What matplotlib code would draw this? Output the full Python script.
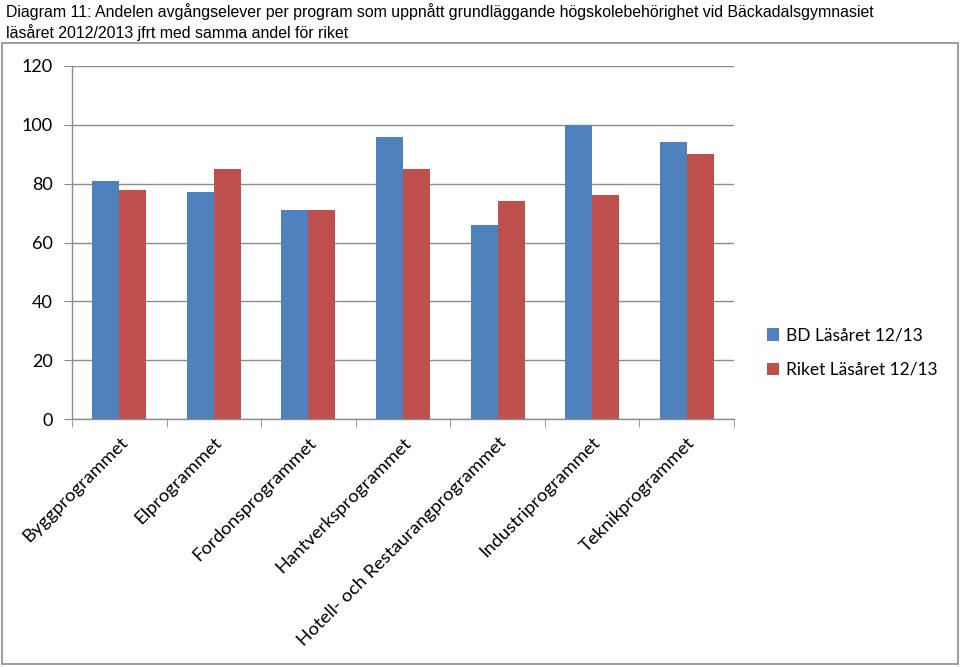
import matplotlib
matplotlib.use("Agg")
import matplotlib.pyplot as plt
import matplotlib.patches as patches
import numpy as np

categories = ["Byggprogrammet", "Elprogrammet", "Fordonsprogrammet",
              "Hantverksprogrammet", "Hotell- och Restaurangprogrammet",
              "Industriprogrammet", "Teknikprogrammet"]
bd_values = [81, 77, 71, 96, 66, 100, 94]
riket_values = [78, 85, 71, 85, 74, 76, 90]
series_names = ["BD Läsåret 12/13", "Riket Läsåret 12/13"]
yticks = [0, 20, 40, 60, 80, 100, 120]

title = ("Diagram 11: Andelen avgångselever per program som uppnått grundläggande "
         "högskolebehörighet vid Bäckadalsgymnasiet\nläsåret 2012/2013 jfrt med samma andel för riket")

blue = "#4F81BD"
red = "#C0504D"
grey = "#8C8C8C"
lab_font = "Lato"

fig = plt.figure(figsize=(9.6, 6.67), dpi=100)
ax = fig.add_axes([72/960, 1-419/667, (734-72)/960, (419-66)/667])

x = np.arange(len(categories))
w = 0.285
b1 = ax.bar(x - w/2, bd_values, w, color=blue, label=series_names[0])
b2 = ax.bar(x + w/2, riket_values, w, color=red, label=series_names[1])

ax.set_xlim(-0.5, len(categories) - 0.5)
ax.set_ylim(0, 120)
ax.set_yticks(yticks)
ax.set_yticklabels([str(v) for v in yticks], fontsize=13, family=lab_font)
ax.yaxis.grid(True, color=grey, linewidth=1)
ax.set_axisbelow(True)

ax.set_xticks(x)
ax.set_xticklabels(categories, rotation=45, ha="right", va="top",
                   rotation_mode="anchor", fontsize=13.3, family=lab_font)
ax.tick_params(axis="x", which="major", length=0, pad=11)
ax.set_xticks(np.arange(-0.5, len(categories)), minor=True)
ax.tick_params(axis="x", which="minor", length=6, color=grey, direction="out")
ax.tick_params(axis="y", length=6, color=grey, direction="out", pad=8)

for s in ["top", "right"]:
    ax.spines[s].set_visible(False)
for s in ["left", "bottom"]:
    ax.spines[s].set_color(grey)
    ax.spines[s].set_linewidth(1)

fig.legend(handles=[b1, b2], loc="upper left", bbox_to_anchor=(751/960, 1-312/667),
           frameon=False, prop={"family": lab_font, "size": 12.5},
           handlelength=0.7, handleheight=0.7, handletextpad=0.4, labelspacing=1.05)

fig.text(6/960, 1-3/667, title, ha="left", va="top", fontsize=11.4,
         family="Liberation Sans", linespacing=1.3)

fig.patches.append(patches.Rectangle((2/960, 3/667), 956/960, 1-43/667 - 3/667,
                                     transform=fig.transFigure, fill=False,
                                     edgecolor=grey, linewidth=1.2))

fig.savefig("out.png", dpi=100)
